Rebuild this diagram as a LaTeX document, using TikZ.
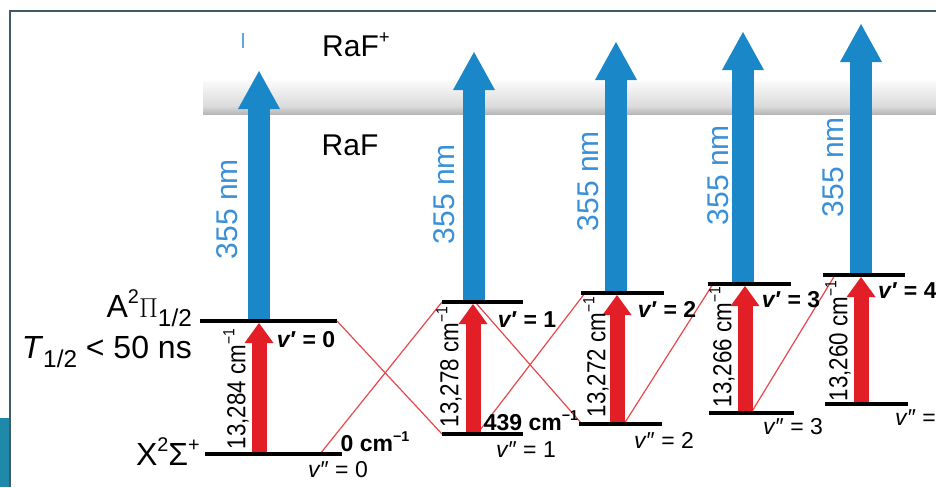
\documentclass[tikz,border=0pt]{standalone}
\usepackage{fontspec}
\setmainfont{Liberation Sans}
\usetikzlibrary{arrows.meta,calc}
\definecolor{ablue}{HTML}{1A87C8}
\definecolor{lblue}{HTML}{3A90D8}
\definecolor{ared}{HTML}{E21F26}
\definecolor{lred}{HTML}{E8474C}
\definecolor{framec}{HTML}{3F5A6B}
\definecolor{tealc}{HTML}{1F89A9}
\newcommand\mysup[1]{\raisebox{0.42em}{\scalebox{0.62}{#1}}}
\newcommand\mysub[1]{\raisebox{-0.32em}{\scalebox{0.68}{#1}}}
\newcommand\mybigsub[1]{\raisebox{-0.3em}{\scalebox{0.76}{#1}}}
\newcommand\myvp{\textit{v}′}
\newcommand\myvpp{\textit{v}″}
\tikzset{
  lvl/.style={line width=3.6pt, black},
  ionarrow/.style={ablue, line width=22pt, -{Triangle[width=42pt,length=38pt,line width=0pt]}},
  exarrow/.style={ared, line width=15pt, -{Triangle[width=29pt,length=20pt,line width=0pt]}},
  decay/.style={lred, line width=1.2pt},
  bigtxt/.style={font=\fontsize{30}{36}\selectfont, inner sep=0pt},
  statetxt/.style={font=\fontsize{32}{38}\selectfont, inner sep=0pt, anchor=base east},
  nmlabel/.style={lblue, font=\fontsize{30}{36}\selectfont, rotate=90, inner sep=0pt},
  cmlabel/.style={font=\fontsize{26}{30}\selectfont, rotate=90, inner sep=0pt},
  vlabel/.style={font=\fontsize{23}{28}\selectfont\bfseries, inner sep=0pt},
  vvlabel/.style={font=\fontsize{23}{28}\selectfont, inner sep=0pt},
}
\begin{document}
\begin{tikzpicture}[x=1pt,y=-1pt]
\useasboundingbox (0,0) rectangle (936,487);
\clip (0,0) rectangle (936,487);
% frame remnants
\fill[tealc] (0,418) rectangle (9,487);
\draw[framec, line width=1.5pt] (10,487) -- (10,11) -- (936,11);
\draw[lblue!80, line width=1.5pt] (243,33) -- (243,48);
% ionisation band
\shade[top color=gray!4, bottom color=gray!28] (203,81) rectangle (936,106);
\shade[top color=gray!28, bottom color=gray!58] (203,106) rectangle (936,114.5);

% level end points
\coordinate (a0l) at (200,321); \coordinate (a0r) at (337,321);
\coordinate (x0l) at (205,454); \coordinate (x0r) at (342,454);
\coordinate (a1l) at (442,302); \coordinate (a1r) at (523,302);
\coordinate (x1l) at (442,434); \coordinate (x1r) at (523,434);
\coordinate (a2l) at (581,293); \coordinate (a2r) at (664,293);
\coordinate (x2l) at (579,424); \coordinate (x2r) at (662,424);
\coordinate (a3l) at (708,284); \coordinate (a3r) at (791,284);
\coordinate (x3l) at (709,413); \coordinate (x3r) at (794,413);
\coordinate (a4l) at (823,275); \coordinate (a4r) at (905,275);
\coordinate (x4l) at (825,404); \coordinate (x4r) at (908,404);

% decay lines
\coordinate (x0d) at (320,454);
\coordinate (a1d) at (476,303); \coordinate (x2d) at (582,424);
\coordinate (x1d) at (477,434); \coordinate (a2d) at (585,293);
\coordinate (x2e) at (624,424); \coordinate (a3d) at (713,284);
\coordinate (x3d) at (751,413); \coordinate (a4d) at (835,275);
\draw[decay] (a0r) -- (x1l);
\draw[decay] (x0d) -- (a1l);
\draw[decay] (a1d) -- (x2d);
\draw[decay] (x1d) -- (a2d);
\draw[decay] (x2e) -- (a3d);
\draw[decay] (x3d) -- (a4d);

% excitation arrows
\coordinate (r0b) at (259,452); \coordinate (r0t) at (259,323);
\coordinate (r1b) at (473,432); \coordinate (r1t) at (473,304);
\coordinate (r2b) at (617,422); \coordinate (r2t) at (617,295);
\coordinate (r3b) at (745,411); \coordinate (r3t) at (745,286);
\coordinate (r4b) at (861,402); \coordinate (r4t) at (861,277);
\foreach \k in {0,...,4} \draw[exarrow] (r\k b) -- (r\k t);

% ionisation arrows
\coordinate (b0b) at (259,321); \coordinate (b0t) at (259,71);
\coordinate (b1b) at (474,302); \coordinate (b1t) at (474,52);
\coordinate (b2b) at (616,293); \coordinate (b2t) at (616,42);
\coordinate (b3b) at (743,284); \coordinate (b3t) at (743,32);
\coordinate (b4b) at (861,275); \coordinate (b4t) at (861,24);
\foreach \k in {0,...,4} \draw[ionarrow] (b\k b) -- (b\k t);

% levels
\draw[lvl] (a0l) -- (a0r); \draw[lvl] (x0l) -- (x0r);
\draw[lvl] (a1l) -- (a1r); \draw[lvl] (x1l) -- (x1r);
\draw[lvl] (a2l) -- (a2r); \draw[lvl] (x2l) -- (x2r);
\draw[lvl] (a3l) -- (a3r); \draw[lvl] (x3l) -- (x3r);
\draw[lvl] (a4l) -- (a4r); \draw[lvl] (x4l) -- (x4r);

% texts
\node[bigtxt] (ion) at (356,45) {RaF\mysup{+}};
\node[bigtxt] (mol) at (350,145) {RaF};
\node[nmlabel] (n0) at (227,209) {355 nm};
\node[nmlabel] (n1) at (444,194) {355 nm};
\node[nmlabel] (n2) at (588,181) {355 nm};
\node[nmlabel] (n3) at (718,175) {355 nm};
\node[nmlabel] (n4) at (833,167) {355 nm};

\node[statetxt] (astate) at (192,317) {A\mysup{2}\scalebox{1.1}{$\Pi$}\mybigsub{1/2}};
\node[statetxt] (life) at (192,358) {\textit{T}\mybigsub{1/2} < 50 ns};
\node[statetxt] (xstate) at (200,465) {X\mysup{2}Σ\mysup{+}};

\node[cmlabel] (e0) at (236,389) {\scalebox{0.86}[1]{13,284 cm\mysup{−1}}};
\node[cmlabel] (e1) at (449,367) {\scalebox{0.86}[1]{13,278 cm\mysup{−1}}};
\node[cmlabel] (e2) at (596,357) {\scalebox{0.86}[1]{13,272 cm\mysup{−1}}};
\node[cmlabel] (e3) at (722,347) {\scalebox{0.86}[1]{13,266 cm\mysup{−1}}};
\node[cmlabel] (e4) at (838,341) {\scalebox{0.86}[1]{13,260 cm\mysup{−1}}};

\node[vlabel] (u0) at (306,340) {\myvp{} = 0};
\node[vlabel] (u1) at (527,320) {\myvp{} = 1};
\node[vlabel] (u2) at (667,309) {\myvp{} = 2};
\node[vlabel] (u3) at (791,300) {\myvp{} = 3};
\node[vlabel, anchor=west] (u4) at (878,291) {\myvp{} = 4};

\node[vvlabel] (l0) at (338,470) {\myvpp{} = 0};
\node[vvlabel] (l1) at (526,450) {\myvpp{} = 1};
\node[vvlabel] (l2) at (664,440) {\myvpp{} = 2};
\node[vvlabel] (l3) at (793,427) {\myvpp{} = 3};
\node[vvlabel, anchor=west] (l4) at (895,418) {\myvpp{} = 4};

\node[vlabel] (g0) at (375,442) {0 cm\mysup{−1}};
\node[vlabel] (g1) at (531,421) {439 cm\mysup{−1}};
\end{tikzpicture}
\end{document}
